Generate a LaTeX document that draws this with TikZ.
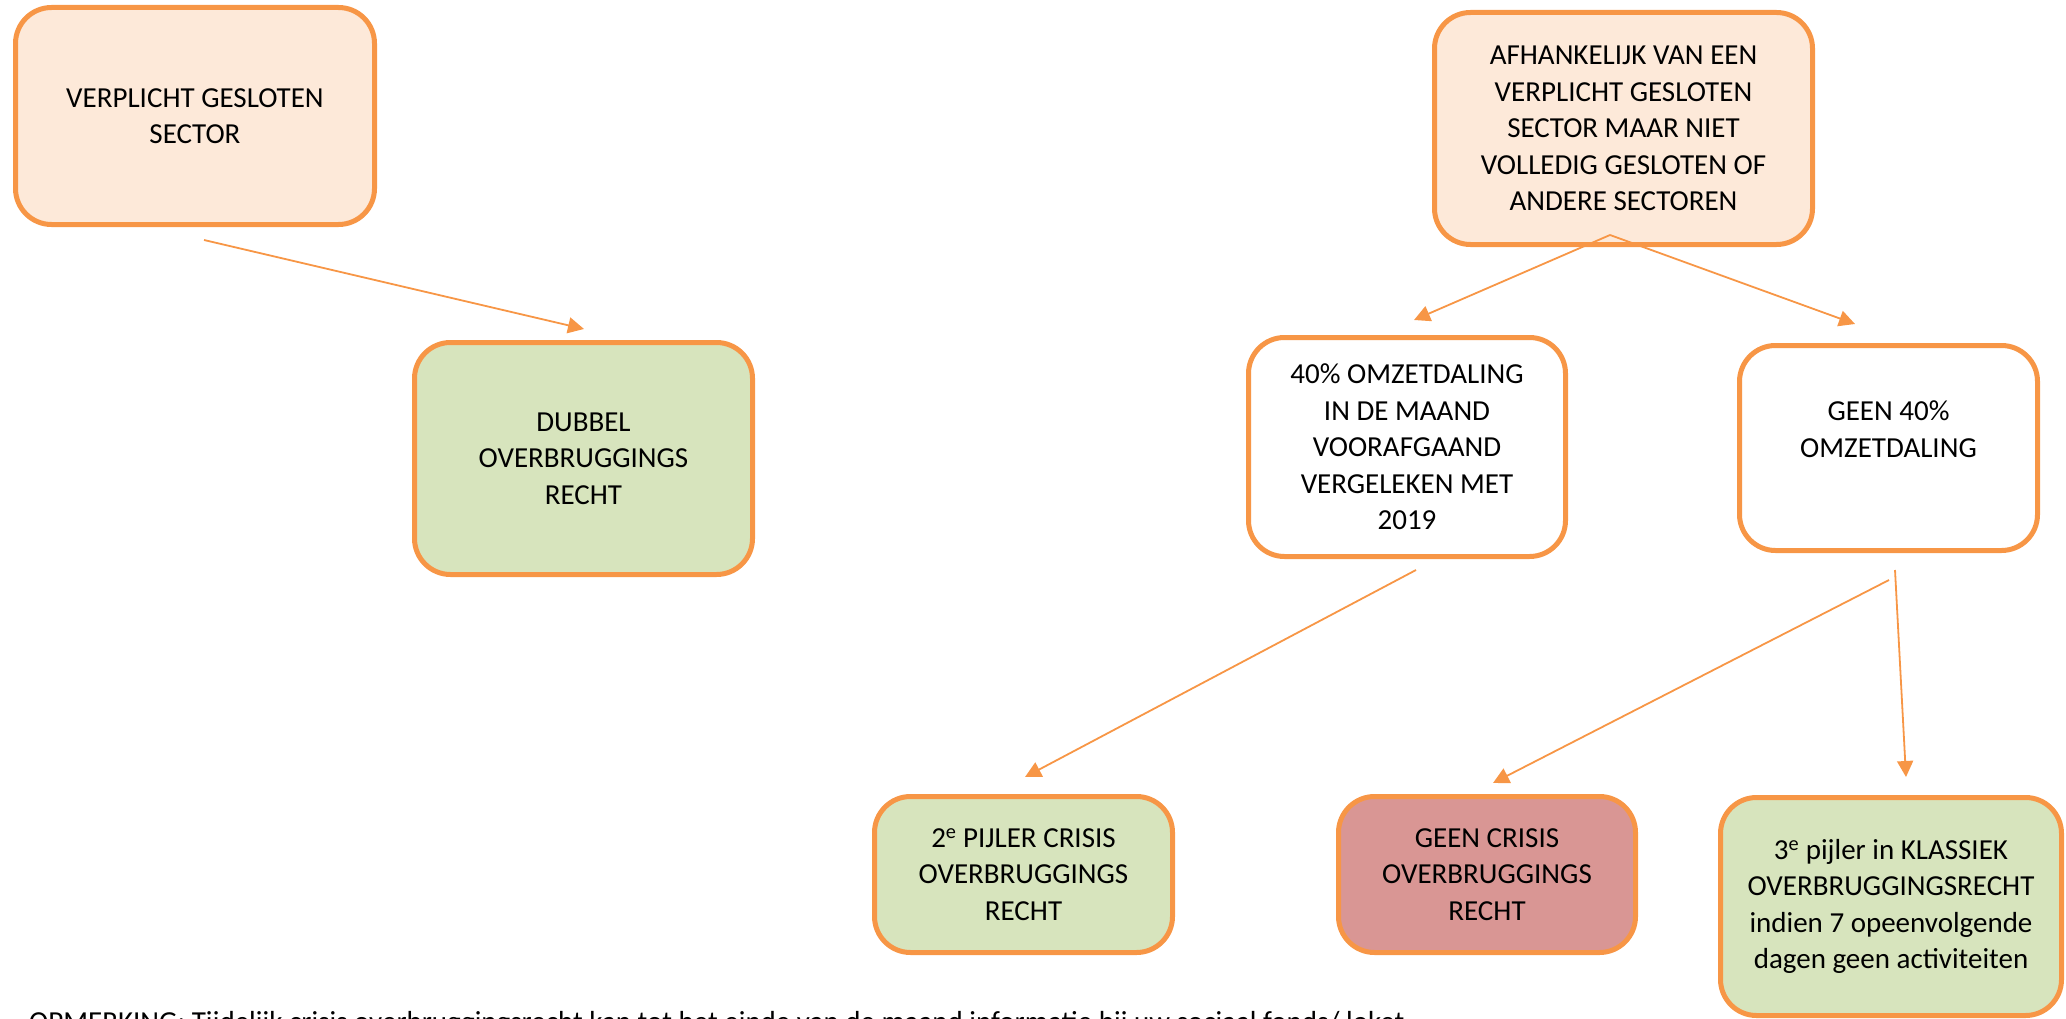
\documentclass[tikz,border=0pt]{standalone}
\usepackage{fontspec}
\setmainfont{Carlito}
\usetikzlibrary{arrows.meta}
\definecolor{orangeb}{HTML}{F79646}
\definecolor{peach}{HTML}{FDE9D9}
\definecolor{greenf}{HTML}{D7E4BD}
\definecolor{redf}{HTML}{D99694}
\tikzset{
  boxtext/.style={font=\fontsize{29}{36.5}\selectfont, text=black, align=center},
  box/.style={boxtext, draw=orangeb, line width=5pt, rounded corners=36pt, inner sep=0pt},
  conn/.style={draw=orangeb, line width=1.8pt, -{Triangle[length=16pt,width=16pt]}}
}
\begin{document}
\begin{tikzpicture}[x=1pt,y=-1pt]
\useasboundingbox (0,0) rectangle (2066,1019);
\clip (0,0) rectangle (2066,1019);
\node[box, fill=peach, minimum width=359pt, minimum height=217pt] (vgs) at (195,116)
  {VERPLICHT GESLOTEN\\SECTOR};
\node[box, fill=greenf, minimum width=338pt, minimum height=232pt] (dub) at (583.5,458.5)
  {DUBBEL\\OVERBRUGGINGS\\RECHT};
\node[box, fill=peach, minimum width=378pt, minimum height=232pt] (afh) at (1623.5,128.5)
  {AFHANKELIJK VAN EEN\\VERPLICHT GESLOTEN\\SECTOR MAAR NIET\\VOLLEDIG GESLOTEN OF\\ANDERE SECTOREN};
\node[box, fill=white, minimum width=317pt, minimum height=219pt] (om40) at (1407,447)
  {40\% OMZETDALING\\IN DE MAAND\\VOORAFGAAND\\VERGELEKEN MET\\2019};
\node[box, fill=white, minimum width=298pt, minimum height=205pt] (geen40) at (1888.5,448) {};
\node[boxtext] (geen40t) at (1888.5,429)
  {GEEN 40\%\\OMZETDALING};
\node[box, fill=greenf, minimum width=298pt, minimum height=156pt] (p2) at (1023.5,874.5)
  {2\textsuperscript{e} PIJLER CRISIS\\OVERBRUGGINGS\\RECHT};
\node[box, fill=redf, minimum width=297pt, minimum height=156pt] (gc) at (1487,874.5)
  {GEEN CRISIS\\OVERBRUGGINGS\\RECHT};
\node[box, fill=greenf, minimum width=341pt, minimum height=218pt] (p3) at (1891,906.5)
  {3\textsuperscript{e} pijler in KLASSIEK\\OVERBRUGGINGSRECHT\\indien 7 opeenvolgende\\dagen geen activiteiten};
\node[boxtext, anchor=base west, inner sep=0pt] (opm) at (29,1031)
  {OPMERKING: Tijdelijk crisis overbruggingsrecht kan tot het einde van de maand informatie bij uw sociaal fonds/ loket};
% connector end points
\coordinate (a1) at (204,240);  \coordinate (a2) at (584,329);
\coordinate (b0) at (1610,235); \coordinate (b1) at (1414,320); \coordinate (b2) at (1855,324);
\coordinate (c1) at (1416,570); \coordinate (c2) at (1025,777);
\coordinate (d1) at (1889,580); \coordinate (d2) at (1493,783);
\coordinate (e1) at (1895,570); \coordinate (e2) at (1906,777);
\draw[conn] (a1) -- (a2);
\draw[conn] (b0) -- (b1);
\draw[conn] (b0) -- (b2);
\draw[conn] (c1) -- (c2);
\draw[conn] (d1) -- (d2);
\draw[conn] (e1) -- (e2);
\end{tikzpicture}
\end{document}
